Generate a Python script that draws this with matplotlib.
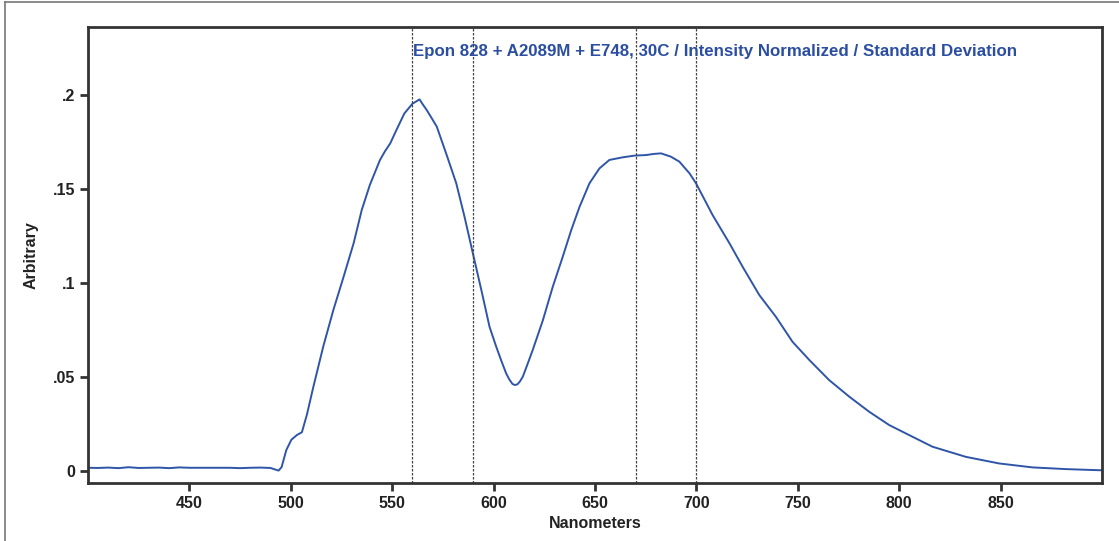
import matplotlib
matplotlib.use("Agg")
import matplotlib.pyplot as plt
from matplotlib.lines import Line2D
from matplotlib.ticker import FuncFormatter

# Spectrum
nm = [400, 405, 410, 415, 420, 425, 430, 435, 440, 445, 450, 460, 470, 475,
      480, 485, 490, 492, 494, 495.5, 497.8, 500.3, 503, 505.5, 508, 511,
      516, 521, 526, 531, 535, 539, 544, 546.5, 549, 552, 556, 560, 562, 563.5,
      565, 567, 569.5, 572, 576.6, 581.6, 585.7, 589.8, 594, 598, 601.3, 604,
      606.2, 607.8, 609.3, 610.5, 611.8, 613, 614.4, 616.5, 619.3, 624.3,
      629.2, 634.1, 638.3, 642.4, 647.3, 652.2, 657.1, 663.7, 669.5, 675.2,
      679, 682.6, 687.5, 691.6, 696.6, 699.8, 708, 716.3, 722.8, 731, 739.2,
      747.4, 755.7, 765.5, 775.4, 785.2, 795.1, 804.9, 816.4, 832.9, 849.3,
      865.7, 882.1, 898.5, 900]
intensity = [0.0016, 0.0015, 0.0017, 0.0014, 0.0019, 0.0015, 0.0016, 0.0017,
             0.0014, 0.0018, 0.0016, 0.0016, 0.0016, 0.0014, 0.0016, 0.0017,
             0.0015, 0.0008, 0.0001, 0.002, 0.011, 0.0165, 0.019, 0.0205,
             0.030, 0.044, 0.066, 0.0855, 0.103, 0.121, 0.1387, 0.152, 0.1653,
             0.170, 0.174, 0.181, 0.190, 0.1952, 0.1965, 0.1975, 0.195, 0.1919,
             0.1875, 0.183, 0.1688, 0.1529, 0.135, 0.1156, 0.096, 0.0766,
             0.066, 0.058, 0.0518, 0.0485, 0.0462, 0.0456, 0.0460, 0.0475,
             0.050, 0.056, 0.0642, 0.080, 0.0979, 0.1138, 0.128, 0.1404,
             0.1529, 0.1608, 0.1653, 0.1667, 0.1676, 0.1679, 0.1685, 0.1688,
             0.167, 0.1644, 0.1582, 0.1529, 0.136, 0.121, 0.1085, 0.0935,
             0.0819, 0.0686, 0.0589, 0.0482, 0.0394, 0.0314, 0.0243, 0.019,
             0.0128, 0.0074, 0.0039, 0.0018, 0.0009, 0.0003, 0.0003]

markers = [560, 590, 670, 700]
xticks = [450, 500, 550, 600, 650, 700, 750, 800, 850]
yticks = [0, 0.05, 0.1, 0.15, 0.2]
title = "Epon 828 + A2089M + E748, 30C / Intensity Normalized / Standard Deviation"

plt.rcParams['font.family'] = ['Liberation Sans', 'DejaVu Sans']

fig = plt.figure(figsize=(11.19, 5.41), dpi=100)
ax = fig.add_axes([0.0786, 0.1072, 0.9062, 0.8429])

ax.plot(nm, intensity, color='#2f55a8', lw=1.4)
for m in markers:
    ax.axvline(m, color='#444444', lw=0.9, ls=(0, (2, 1.2)))

ax.set_xlim(400, 900)
ax.set_ylim(-0.0065, 0.236)
ax.set_xticks(xticks)
ax.set_yticks(yticks)


def fmt(v, pos):
    if v == 0:
        return "0"
    return ("%g" % v).lstrip("0")


ax.yaxis.set_major_formatter(FuncFormatter(fmt))
ax.tick_params(direction='out', length=6, width=2, color='#333333',
               labelsize=11.5, labelcolor='#222222', pad=3)
for lab in ax.get_xticklabels() + ax.get_yticklabels():
    lab.set_fontweight('bold')
for s in ax.spines.values():
    s.set_linewidth(2)
    s.set_color('#333333')

ax.set_xlabel("Nanometers", fontsize=11.5, fontweight='bold', color='#222222', labelpad=4)
ax.set_ylabel("Arbitrary", fontsize=11.5, fontweight='bold', color='#222222', labelpad=10)

ax.text(0.3205, 0.947, title, transform=ax.transAxes, fontsize=12.15,
        fontweight='bold', color='#2b4ea2', va='center', ha='left')

# outer frame (left and top edges visible)
fig.add_artist(Line2D([0.0045, 0.0045], [0, 0.996], transform=fig.transFigure,
                      color='#777777', lw=1.2))
fig.add_artist(Line2D([0.0045, 1.0], [0.996, 0.996], transform=fig.transFigure,
                      color='#777777', lw=1.2))

fig.savefig("out.png", dpi=100)
